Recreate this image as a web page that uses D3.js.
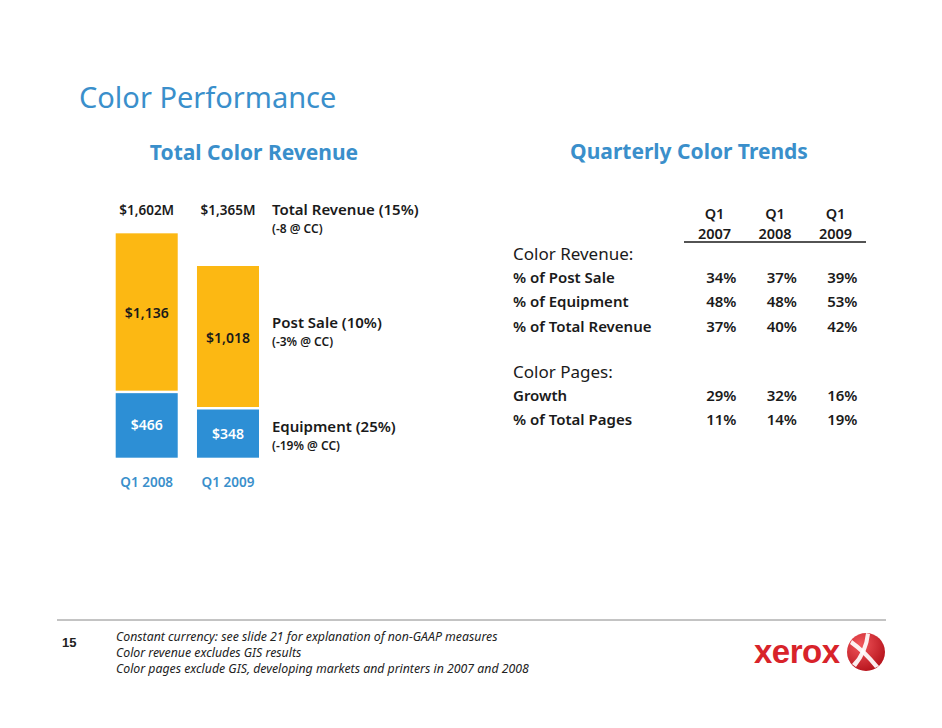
<!DOCTYPE html>
<html>
<head>
<meta charset="utf-8">
<script src="https://cdn.jsdelivr.net/npm/d3@7"></script>
<style>
  body { margin: 0; background: #fff; }
  svg { display: block; font-family: "Noto Sans", "Open Sans", sans-serif; }
</style>
</head>
<body>
<svg width="942" height="728"></svg>
<script>
// bar chart data ($M)
let periods = ['Q1 2008', 'Q1 2009'];
let equipment = [466, 348];
let postSale = [1136, 1018];
let totals = [1602, 1365];

let seriesNotes = [
  { title: 'Total Revenue (15%)', sub: '(-8 @ CC)' },
  { title: 'Post Sale (10%)', sub: '(-3% @ CC)' },
  { title: 'Equipment (25%)', sub: '(-19% @ CC)' }
];

// table data
let trendYears = ['2007', '2008', '2009'];
let revenueRows = ['% of Post Sale', '% of Equipment', '% of Total Revenue'];
let revenueValues = [[34, 37, 39], [48, 48, 53], [37, 40, 42]];
let pageRows = ['Growth', '% of Total Pages'];
let pageValues = [[29, 32, 16], [11, 14, 19]];

let footnotes = [
  'Constant currency: see slide 21 for explanation of non-GAAP measures',
  'Color revenue excludes GIS results',
  'Color pages exclude GIS, developing markets and printers in 2007 and 2008'
];

let blue = '#3a8fcb', barBlue = '#2d8fd5', barYellow = '#fcb813', ink = '#1a1a1a';
let svg = d3.select('svg');

svg.append('text').attr('x', 79).attr('y', 108)
  .style('font-size', '29px').style('fill', blue)
  .text('Color Performance');

svg.append('text').attr('x', 254).attr('y', 160).attr('text-anchor', 'middle')
  .style('font-size', '21px').style('font-weight', 'bold').style('fill', blue)
  .text('Total Color Revenue');

svg.append('text').attr('x', 689).attr('y', 159).attr('text-anchor', 'middle')
  .style('font-size', '21px').style('font-weight', 'bold').style('fill', blue)
  .text('Quarterly Color Trends');

// ---- stacked bars
let x = d3.scaleBand().domain(periods).range([115.7, 259]).paddingInner(0.237);
let y = d3.scaleLinear().domain([0, 1600]).range([457.7, 236.1]);
let gap = 2.5;

let bars = periods.map(function(p, i) {
  return { period: p, eq: equipment[i], ps: postSale[i], total: totals[i] };
});

let g = svg.append('g').attr('class', 'chart');

g.selectAll('rect.eq').data(bars).join('rect').attr('class', 'eq')
  .attr('x', d => x(d.period)).attr('width', x.bandwidth())
  .attr('y', d => y(d.eq)).attr('height', d => y(0) - y(d.eq))
  .style('fill', barBlue);

g.selectAll('rect.ps').data(bars).join('rect').attr('class', 'ps')
  .attr('x', d => x(d.period)).attr('width', x.bandwidth())
  .attr('y', d => y(d.eq + d.ps) - gap).attr('height', d => y(d.eq) - y(d.eq + d.ps))
  .style('fill', barYellow);

let cx = d => x(d.period) + x.bandwidth() / 2;

g.selectAll('text.eqv').data(bars).join('text').attr('class', 'eqv')
  .attr('x', cx).attr('y', d => (y(d.eq) + y(0)) / 2 + 5)
  .attr('text-anchor', 'middle')
  .style('font-size', '14px').style('font-weight', '600').style('fill', '#fff')
  .text(d => '$' + d3.format(',')(d.eq));

g.selectAll('text.psv').data(bars).join('text').attr('class', 'psv')
  .attr('x', cx).attr('y', d => (y(d.eq + d.ps) + y(d.eq)) / 2 + 4)
  .attr('text-anchor', 'middle')
  .style('font-size', '14px').style('font-weight', '600').style('fill', ink)
  .text(d => '$' + d3.format(',')(d.ps));

g.selectAll('text.tot').data(bars).join('text').attr('class', 'tot')
  .attr('x', cx).attr('y', 215)
  .attr('text-anchor', 'middle')
  .style('font-size', '13.5px').style('font-weight', '600').style('fill', ink)
  .text(d => '$' + d3.format(',')(d.total) + 'M');

g.selectAll('text.per').data(bars).join('text').attr('class', 'per')
  .attr('x', cx).attr('y', 487)
  .attr('text-anchor', 'middle')
  .style('font-size', '13.5px').style('font-weight', '600').style('fill', blue)
  .text(d => d.period);

// notes to the right of the bars
let noteY = [215, 328, 432];
seriesNotes.forEach(function(n, i) {
  svg.append('text').attr('x', 272).attr('y', noteY[i])
    .style('font-size', '15px').style('font-weight', '600').style('fill', ink)
    .text(n.title);
  svg.append('text').attr('x', 272).attr('y', noteY[i] + 18)
    .style('font-size', '12px').style('font-weight', '600').style('fill', ink)
    .text(n.sub);
});

// ---- table
let colX = d3.scalePoint().domain(trendYears).range([736.5, 857.5]);
let t = svg.append('g').attr('class', 'table');

t.selectAll('text.q').data(trendYears).join('text').attr('class', 'q')
  .attr('x', d => colX(d) - 22).attr('y', 219).attr('text-anchor', 'middle')
  .style('font-size', '14.5px').style('font-weight', '600').style('fill', ink)
  .text('Q1');
t.selectAll('text.yr').data(trendYears).join('text').attr('class', 'yr')
  .attr('x', d => colX(d) - 22).attr('y', 238.5).attr('text-anchor', 'middle')
  .style('font-size', '14.5px').style('font-weight', '600').style('fill', ink)
  .text(d => d);
t.append('line').attr('x1', 684).attr('x2', 866).attr('y1', 242).attr('y2', 242)
  .style('stroke', ink).style('stroke-width', 1.3);

function section(label, labelY, rows, values) {
  t.append('text').attr('x', 513).attr('y', labelY + 6)
    .style('font-size', '17px').style('fill', ink).text(label);
  rows.forEach(function(r, i) {
    let ry = labelY + 24 + i * 24.3 + 5;
    t.append('text').attr('x', 513).attr('y', ry)
      .style('font-size', '15px').style('font-weight', '600').style('fill', ink).text(r);
    t.selectAll(null).data(values[i]).join('text')
      .attr('x', (d, j) => colX(trendYears[j])).attr('y', ry)
      .attr('text-anchor', 'end')
      .style('font-size', '15px').style('font-weight', '600').style('fill', ink)
      .text(d => d + '%');
  });
}
section('Color Revenue:', 254, revenueRows, revenueValues);
section('Color Pages:', 371.7, pageRows, pageValues);

// ---- footer
svg.append('line').attr('x1', 57).attr('x2', 886).attr('y1', 620).attr('y2', 620)
  .style('stroke', '#888').style('stroke-width', 1);
svg.append('text').attr('x', 62).attr('y', 647)
  .style('font-family', '"Liberation Sans", Arial, sans-serif')
  .style('font-size', '13px').style('font-weight', 'bold').style('fill', '#222')
  .text('15');
svg.selectAll('text.fn').data(footnotes).join('text').attr('class', 'fn')
  .attr('x', 116).attr('y', (d, i) => 641 + i * 16)
  .style('font-size', '12.3px').style('font-style', 'italic').style('fill', '#222')
  .text(d => d);

// xerox logo
let logo = svg.append('g').attr('class', 'logo');
logo.append('text').attr('x', 754).attr('y', 663)
  .style('font-family', '"Liberation Sans", Arial, sans-serif')
  .style('font-size', '33px').style('font-weight', 'bold').style('fill', '#d8232a')
  .style('letter-spacing', '-0.5px')
  .text('xerox');
let lg = logo.append('g').attr('transform', 'translate(866,652)');
let grad = svg.append('defs').append('radialGradient').attr('id', 'sphere')
  .attr('cx', '35%').attr('cy', '30%').attr('r', '75%');
grad.append('stop').attr('offset', '0%').attr('stop-color', '#f2565b');
grad.append('stop').attr('offset', '100%').attr('stop-color', '#b5121b');
lg.append('circle').attr('r', 19).style('fill', 'url(#sphere)');
lg.append('path').attr('d', 'M-14,-12 Q0,-2 13,14 L9,16 Q-2,2 -16,-8 Z').style('fill', '#fff').style('opacity', 0.92);
lg.append('path').attr('d', 'M4,-18 Q2,0 -10,15 L-14,12 Q-2,0 0,-19 Z').style('fill', '#fff').style('opacity', 0.92);
</script>
</body>
</html>
